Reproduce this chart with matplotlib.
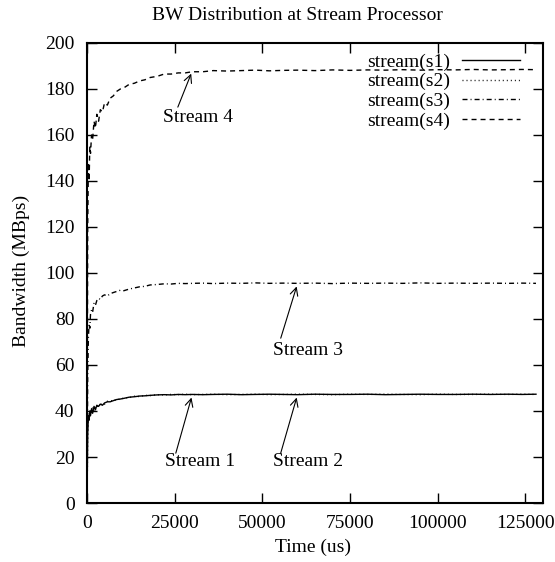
import matplotlib.pyplot as plt

plt.rcParams['font.family'] = ['Liberation Serif', 'DejaVu Serif']
plt.rcParams['font.size'] = 14

# time axis (us), shared by all four streams
time_us = [0, 200, 400, 600, 800, 1000, 1300, 1600, 2000, 2400, 2800, 3300,
           3800, 4400, 5000, 5800, 6600, 7500, 8500, 9500, 10500, 12000,
           13500, 15000, 16500, 18000, 20000, 22000, 24000, 26000, 28000,
           30000, 33000, 36000, 40000, 44000, 48000, 52000, 56000, 60000,
           65000, 70000, 75000, 80000, 85000, 90000, 95000, 100000, 105000,
           110000, 115000, 120000, 124000, 128000]

s1 = [0, 30, 38, 36, 40, 38, 41, 39, 42, 40.5, 42.5, 42, 43, 42.5, 43.5, 44,
      44, 44.5, 45, 45.2, 45.5, 46, 46.2, 46.5, 46.6, 46.8, 47, 47.1, 47,
      47.2, 47.1, 47.2, 47.1, 47.2, 47.3, 47.1, 47.2, 47.3, 47.2, 47.1, 47.3,
      47.2, 47.2, 47.3, 47.1, 47.2, 47.3, 47.2, 47.2, 47.3, 47.2, 47.3, 47.2,
      47.3]
s2 = [0, 28, 37, 39, 37, 40, 39, 41.5, 40, 42, 41.5, 43, 42, 43.5, 43, 44.2,
      44.5, 44.3, 45.2, 45, 45.7, 45.8, 46.4, 46.3, 46.8, 46.7, 47.1, 47,
      47.2, 47.1, 47.3, 47.1, 47.2, 47.3, 47.1, 47.2, 47.3, 47.1, 47.2, 47.3,
      47.2, 47.1, 47.3, 47.2, 47.3, 47.2, 47.1, 47.3, 47.2, 47.2, 47.3, 47.2,
      47.3, 47.2]
s3 = [0, 55, 72, 78, 76, 82, 84, 83, 87, 86, 88, 89, 88.5, 90, 90.5, 90, 91,
      91.5, 92, 92.5, 92.3, 93, 93.5, 94, 94.2, 94.8, 95, 95.3, 95.2, 95.5,
      95.4, 95.5, 95.6, 95.4, 95.6, 95.5, 95.7, 95.5, 95.6, 95.5, 95.6, 95.4,
      95.6, 95.5, 95.6, 95.5, 95.7, 95.5, 95.6, 95.5, 95.6, 95.5, 95.6, 95.5]
s4 = [0, 120, 148, 140, 155, 152, 160, 158, 166, 163, 169, 166, 171, 170,
      174, 173, 176, 177, 179, 180, 180.5, 182, 182.5, 183.5, 184, 185, 185.5,
      186.5, 186.5, 187, 187, 187.5, 187.5, 188, 187.8, 188, 188.2, 187.9,
      188.1, 188.2, 188, 188.3, 188.1, 188.3, 188.2, 188.4, 188.2, 188.4,
      188.3, 188.5, 188.3, 188.4, 188.5, 188.4]

labels = ['stream(s1)', 'stream(s2)', 'stream(s3)', 'stream(s4)']
x_ticks = [0, 25000, 50000, 75000, 100000, 125000]
y_ticks = [0, 20, 40, 60, 80, 100, 120, 140, 160, 180, 200]

# (text, text position, arrow tail, arrow head)
notes = [
    ('Stream 4', (21700, 167.5), (25600, 171), (30000, 187.8)),
    ('Stream 3', (53000, 66.5), (55000, 70.5), (60000, 95.3)),
    ('Stream 1', (22200, 18), (25100, 20.5), (30000, 47)),
    ('Stream 2', (53100, 18), (55000, 20.5), (60000, 47)),
]

fig = plt.figure(figsize=(5.55, 5.62), dpi=100)
ax = fig.add_axes([87 / 555, 1 - 503 / 562, 456 / 555, 460 / 562])

styles = ['-', (0, (0.7, 2.2)), (0, (3.6, 2.2, 0.7, 2.2)), (0, (3.6, 2.9))]
for vals, lab, ls in zip([s1, s2, s3, s4], labels, styles):
    ax.plot(time_us, vals, color='black', lw=1.0, linestyle=ls, label=lab)

for txt, pos, tail, head in notes:
    ax.text(pos[0], pos[1], txt, ha='left', va='center')
    ax.annotate('', xy=head, xytext=tail,
                arrowprops=dict(arrowstyle='->', color='black', lw=0.8,
                                mutation_scale=14))

ax.set_xlim(0, 130000)
ax.set_ylim(0, 200)
ax.set_xticks(x_ticks)
ax.set_yticks(y_ticks)
ax.tick_params(direction='in', length=7, width=1, top=True, right=True)
ax.tick_params(axis='x', pad=9)
ax.tick_params(axis='y', pad=9)
for sp in ax.spines.values():
    sp.set_linewidth(1.5)

ax.legend(loc='upper right', bbox_to_anchor=(0.9496, 0.978), frameon=False,
          markerfirst=False, handlelength=3.0, handletextpad=0.6,
          labelspacing=0.1, borderpad=0, borderaxespad=0, fontsize=14)

fig.text(297 / 555, 1 - 15 / 562, 'BW Distribution at Stream Processor',
         ha='center', va='center', fontsize=14)
fig.text(313 / 555, 1 - 547 / 562, 'Time (us)', ha='center', va='center')
fig.text(21 / 555, 1 - 271 / 562, 'Bandwidth (MBps)', ha='center',
         va='center', rotation=90)

fig.savefig('out.png', dpi=100)
